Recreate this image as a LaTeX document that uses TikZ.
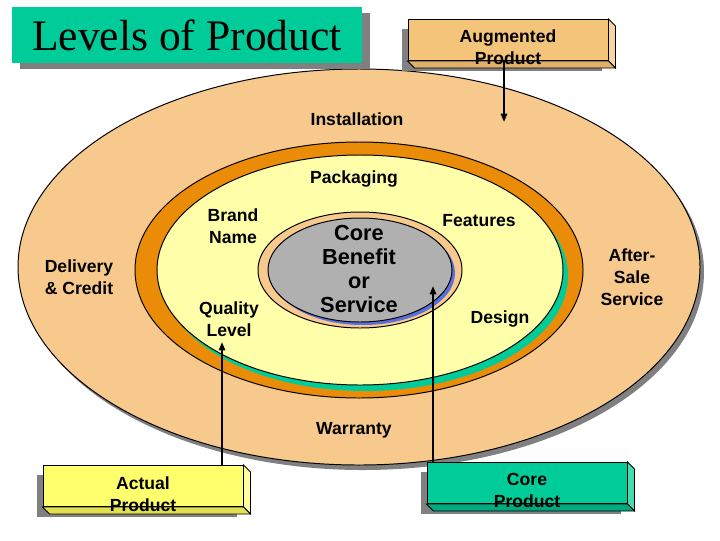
\documentclass[tikz,border=0pt]{standalone}
\usepackage{fontspec}
\setmainfont{Liberation Serif}
\setsansfont{Liberation Sans}
\usetikzlibrary{arrows.meta,shadows}

\definecolor{peach}{RGB}{247,201,140}
\definecolor{ringorange}{RGB}{234,140,8}
\definecolor{lemon}{RGB}{255,255,170}
\definecolor{seagreen}{RGB}{0,204,153}
\definecolor{coregray}{RGB}{176,176,176}
\definecolor{coreblue}{RGB}{90,110,220}
\definecolor{augface}{RGB}{244,196,122}
\definecolor{augside}{RGB}{248,212,160}
\definecolor{augbot}{RGB}{222,176,108}
\definecolor{actface}{RGB}{255,255,110}
\definecolor{actside}{RGB}{255,255,160}
\definecolor{actbot}{RGB}{225,225,80}
\definecolor{coreside}{RGB}{70,220,175}
\definecolor{corebot}{RGB}{0,170,128}

\begin{document}
\begin{tikzpicture}[x=0.025cm, y=-0.025cm,
  lbl/.style={font=\sffamily\bfseries\fontsize{12.5}{15.6}\selectfont, align=center, inner sep=0pt},
  slab/.style={draw, line width=0.6pt, minimum width=5cm, minimum height=1.03cm, inner sep=0pt,
    drop shadow={shadow xshift=-0.15cm, shadow yshift=-0.25cm, fill=gray, opacity=1}},
  ptr/.style={line width=1.3pt, -{Triangle[length=6pt, width=4.5pt]}}]
  \useasboundingbox (0,0) rectangle (720,540);

  % outer ellipse (augmented)
  \fill[gray] (363,272) ellipse [x radius=341, y radius=198];
  \draw[fill=peach, line width=0.7pt] (359,267) ellipse [x radius=341, y radius=198];
  % actual product ring
  \draw[fill=ringorange, line width=0.7pt] (359,270) ellipse [x radius=224, y radius=128];
  \fill[seagreen] (365,276) ellipse [x radius=203, y radius=115];
  \draw[fill=lemon, line width=0.7pt] (360,270) ellipse [x radius=203, y radius=115];
  % core
  \draw[fill=peach, line width=0.7pt] (360,270) ellipse [x radius=102, y radius=58];
  \fill[coreblue] (363,273) ellipse [x radius=92, y radius=52];
  \draw[fill=coregray, line width=0.7pt] (360,270) ellipse [x radius=92, y radius=52];

  % title
  \node[fill=seagreen, minimum width=8.75cm, minimum height=1.375cm, inner sep=0pt,
    font=\fontsize{31}{36}\selectfont,
    drop shadow={shadow xshift=0.2cm, shadow yshift=-0.15cm, fill=gray, opacity=1}]
    (ttl) at (187,35) {Levels of Product};

  % labels
  \node[lbl] (inst) at (357,119) {Installation};
  \node[lbl] (pack) at (354,179) {Packaging};
  \node[lbl] (brand) at (233,226) {Brand\\Name};
  \node[lbl] (deliv) at (79,277) {Delivery\\\& Credit};
  \node[lbl] (qual) at (229,319) {Quality\\Level};
  \node[lbl] (feat) at (479,221) {Features};
  \node[lbl] (design) at (500,319) {Design};
  \node[lbl] (after) at (632,277) {After-\\Sale\\Service};
  \node[lbl] (warr) at (354,430) {Warranty};
  \node[lbl, font=\sffamily\bfseries\fontsize{15.5}{17}\selectfont] (core) at (359,269)
    {Core\\Benefit\\or\\Service};

  % 3D boxes
  \node[slab, fill=augface] (aug) at (508,40) {};
  \node[slab, fill=actface] (act) at (143,486) {};
  \node[slab, fill=seagreen] (cprod) at (527,483) {};
  \foreach \b/\cs/\cb in {aug/augside/augbot, act/actside/actbot, cprod/coreside/corebot} {
    \filldraw[fill=\cs, line width=0.6pt] (\b.north east) -- ([shift={(7,7)}]\b.north east)
      -- ([shift={(7,7)}]\b.south east) -- (\b.south east) -- cycle;
    \filldraw[fill=\cb, line width=0.6pt] (\b.south west) -- ([shift={(7,7)}]\b.south west)
      -- ([shift={(7,7)}]\b.south east) -- (\b.south east) -- cycle;
  }
  \node[lbl] (augtxt) at ([shift={(0,7.5)}]aug.center) {Augmented\\Product};
  \node[lbl] (acttxt) at ([shift={(0,8)}]act.center) {Actual\\Product};
  \node[lbl] (cprodtxt) at ([shift={(0,7.5)}]cprod.center) {Core\\Product};

  % arrows
  \coordinate (augtip) at (504,122);
  \coordinate (qualtip) at (222,342);
  \coordinate (coretip) at (433,286);
  \draw[ptr] (aug.south -| augtip) -- (augtip);
  \draw[ptr] (act.north -| qualtip) -- (qualtip);
  \draw[ptr] (cprod.north -| coretip) -- (coretip);
\end{tikzpicture}
\end{document}
